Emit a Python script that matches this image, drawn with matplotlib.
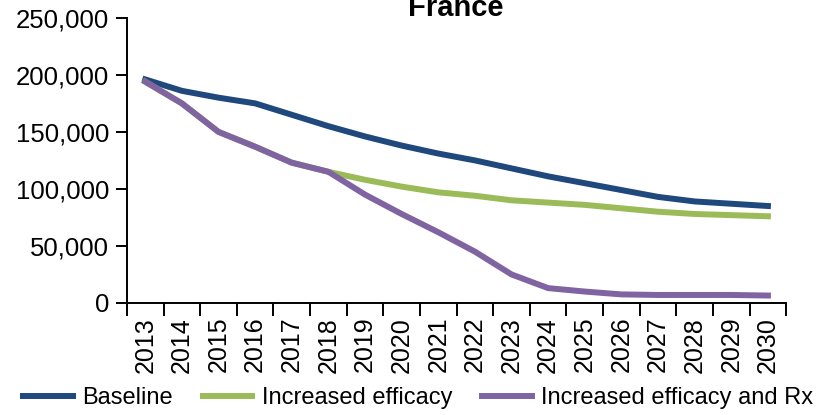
import numpy as np
import matplotlib.pyplot as plt
from matplotlib.ticker import FuncFormatter, FixedLocator

plt.rcParams['font.family'] = ['Liberation Sans', 'DejaVu Sans']

years = [str(y) for y in range(2013, 2031)]
baseline = [196000, 186000, 180000, 175000, 165000, 155000, 146000, 138000, 131000,
            125000, 118000, 111000, 105000, 99000, 93000, 89000, 87000, 85000]
efficacy = [194000, 175000, 150000, 137000, 123000, 115000, 108000, 102000, 97000,
            94000, 90000, 88000, 86000, 83000, 80000, 78000, 77000, 76000]
efficacy_rx = [194000, 175000, 150000, 137000, 123000, 115000, 95000, 78000, 62000,
               45000, 25000, 13000, 10000, 7500, 7000, 7000, 7000, 6500]

colors = {'Baseline': '#1f497d', 'Increased efficacy': '#9bbb59',
          'Increased efficacy and Rx': '#8064a2'}

fig = plt.figure(figsize=(8.19, 4.15), dpi=100)
ax = fig.add_axes([0.155, 0.27, 0.805, 0.687])

x = np.arange(len(years))
ax.plot(x, baseline, color=colors['Baseline'], lw=4.3, label='Baseline')
ax.plot(x, efficacy, color=colors['Increased efficacy'], lw=4.3, label='Increased efficacy')
ax.plot(x, efficacy_rx, color=colors['Increased efficacy and Rx'], lw=4.3,
        label='Increased efficacy and Rx')

ax.set_xlim(-0.5, len(years) - 0.5)
ax.set_ylim(0, 250000)
ax.set_yticks(range(0, 250001, 50000))
ax.yaxis.set_major_formatter(FuncFormatter(lambda v, p: f'{int(v):,}'))

ax.set_xticks(x)
ax.set_xticklabels(years, rotation=90)
ax.xaxis.set_minor_locator(FixedLocator(np.arange(-0.5, len(years), 1)))
ax.tick_params(axis='x', which='major', length=0, pad=10, labelsize=18)
ax.tick_params(axis='x', which='minor', length=9, width=1.4, direction='out')
ax.tick_params(axis='y', length=8, width=1.4, labelsize=18.5, pad=5)

for s in ['top', 'right']:
    ax.spines[s].set_visible(False)
for s in ['left', 'bottom']:
    ax.spines[s].set_linewidth(1.4)

# title sits high, partly clipped by the top edge as in the original
fig.text(0.557, 0.962, 'France', fontsize=21, fontweight='bold',
         ha='center', va='baseline')

fig.legend(loc='center left', bbox_to_anchor=(0.028, 0.041), ncol=3, frameon=False,
           fontsize=17, handlelength=2.1, handletextpad=0.4, columnspacing=1.27,
           borderpad=0, borderaxespad=0)

fig.savefig('out.png', dpi=100)
